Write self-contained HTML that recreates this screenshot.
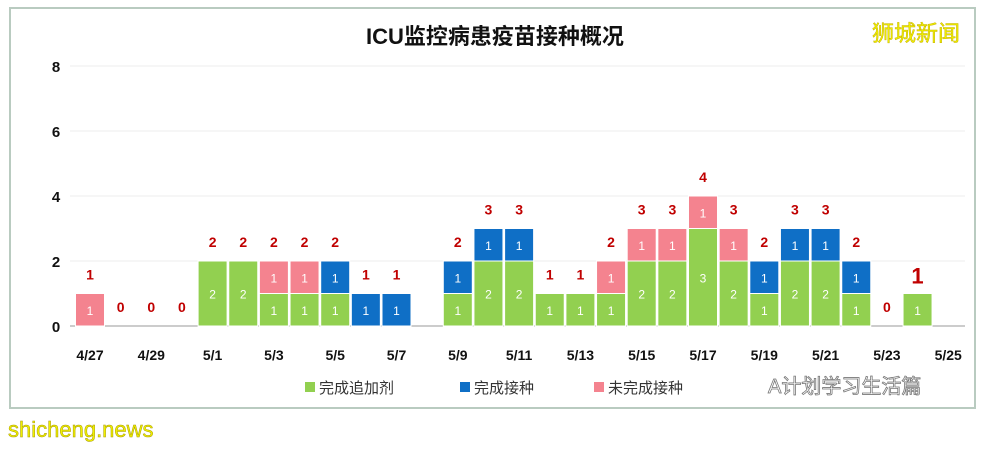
<!DOCTYPE html>
<html><head><meta charset="utf-8"><style>
body{margin:0;background:#fff;width:982px;height:446px;overflow:hidden;font-family:"Liberation Sans","Noto Sans CJK SC",sans-serif}
</style></head><body>
<svg id="c" width="982" height="446" xmlns="http://www.w3.org/2000/svg">
<rect x="10" y="8" width="965" height="400" fill="#fff" stroke="#b9cbc0" stroke-width="2"/>
<text x="495" y="44" text-anchor="middle" font-size="22" font-weight="bold" fill="#111">ICU监控病患疫苗接种概况</text>
<text x="916" y="41" text-anchor="middle" font-size="22" fill="#f0f000" stroke="#c8b400" stroke-width="0.5">狮城新闻</text>
<g id="plot"></g>
<g>
<rect x="305" y="382" width="10" height="10" fill="#92d050"/>
<text x="319" y="393" font-size="15" fill="#333">完成追加剂</text>
<rect x="460" y="382" width="10" height="10" fill="#0f6fc6"/>
<text x="474" y="393" font-size="15" fill="#333">完成接种</text>
<rect x="594" y="382" width="10" height="10" fill="#f4838f"/>
<text x="608" y="393" font-size="15" fill="#333">未完成接种</text>
</g>
<text x="768" y="393" font-size="20" fill="#fff" stroke="#777" stroke-width="0.8">A计划学习生活篇</text>
<text x="8" y="437" font-size="22" fill="#f0f000" stroke="#a89a00" stroke-width="0.5">shicheng.news</text>
</svg>
<script>
const dates=["4/27","4/28","4/29","4/30","5/1","5/2","5/3","5/4","5/5","5/6","5/7","5/8","5/9","5/10","5/11","5/12","5/13","5/14","5/15","5/16","5/17","5/18","5/19","5/20","5/21","5/22","5/23","5/24","5/25"];
const booster=[0,0,0,0,2,2,1,1,1,0,0,0,1,2,2,1,1,1,2,2,3,2,1,2,2,1,0,1,0];
const full=[0,0,0,0,0,0,0,0,1,1,1,0,1,1,1,0,0,0,0,0,0,0,1,1,1,1,0,0,0];
const incomplete=[1,0,0,0,0,0,1,1,0,0,0,0,0,0,0,0,0,1,1,1,1,1,0,0,0,0,0,0,0];
const showTotal=[1,1,1,1,1,1,1,1,1,1,1,0,1,1,1,1,1,1,1,1,1,1,1,1,1,1,1,1,0];
const yTicks=[0,2,4,6,8];
const ns="http://www.w3.org/2000/svg";
const g=document.getElementById('plot');
const x=i=>90+i*30.65;
const y=v=>326-v*32.5;
function mk(t,a){const e=document.createElementNS(ns,t);for(const k in a)e.setAttribute(k,a[k]);g.appendChild(e);return e;}
yTicks.forEach(t=>{
 const l=mk('line',{x1:70,x2:965,y1:y(t),y2:y(t),stroke:t===0?'#999':'#eee'});
 
 
 const tx=mk('text',{x:56,y:y(t)+6,'text-anchor':'middle','font-size':15,'font-weight':'bold',fill:'#111'});tx.textContent=t;
 
 
});
dates.forEach((d,i)=>{
 if(i%2===0){const tx=mk('text',{x:x(i),y:360,'text-anchor':'middle','font-size':14,'font-weight':'bold',fill:'#111'});tx.textContent=d;
 
 }
 let base=0;
 [[booster,'#92d050','booster'],[full,'#0f6fc6','full'],[incomplete,'#f4838f','incomplete']].forEach(([arr,c,n])=>{
  const v=arr[i];if(!v)return;
  const r=mk('rect',{x:x(i)-14.5,y:y(base+v),width:29,height:y(base)-y(base+v),fill:c,stroke:'#fff','stroke-width':1});
  
  
  const tx=mk('text',{x:x(i),y:(y(base)+y(base+v))/2+5,'text-anchor':'middle','font-size':12,fill:'#fff'});tx.textContent=v;
  
  
  base+=v;
 });
 if(showTotal[i]){
  const big=(i===27);
  const tx=mk('text',{x:x(i),y:y(base)-(big?10:14),'text-anchor':'middle','font-size':big?22:14,'font-weight':'bold',fill:'#c00000'});tx.textContent=base;
  
  
 }
});
</script>
</body></html>
